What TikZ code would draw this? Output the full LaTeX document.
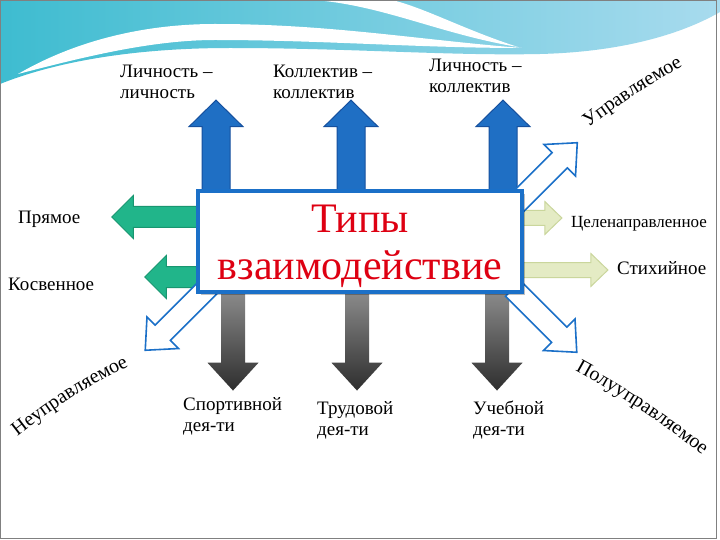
\documentclass[tikz,border=0pt]{standalone}
\usepackage{fontspec}
\setmainfont{Liberation Serif}
\usetikzlibrary{shapes.arrows,decorations.text,shadows}

\definecolor{bandteal}{RGB}{62,188,208}
\definecolor{banddeep}{RGB}{84,166,206}
\definecolor{bandpale}{RGB}{168,219,238}
\definecolor{boxblue}{RGB}{27,112,200}
\definecolor{arrblue}{RGB}{31,111,196}
\definecolor{arrblueline}{RGB}{22,80,158}
\definecolor{arrgreen}{RGB}{33,181,138}
\definecolor{arrgreenline}{RGB}{24,150,112}
\definecolor{arrpale}{RGB}{228,235,196}
\definecolor{arrpaleline}{RGB}{202,214,156}
\definecolor{titlered}{RGB}{222,0,18}

\begin{document}
\begin{tikzpicture}[x=1pt,y=-1pt,
    lbl/.style={anchor=base west, align=left, inner sep=0pt, font=\fontsize{19}{21}\selectfont},
    arr/.style={single arrow, line width=1pt},
    bluearr/.style={arr, shape border rotate=90, fill=arrblue, draw=arrblueline,
        inner sep=13.5pt, single arrow head extend=13pt, single arrow tip angle=91},
    grayarr/.style={arr, shape border rotate=270, draw=none, top color=black!45, bottom color=black!82,
        inner sep=11.5pt, single arrow head extend=13.5pt, single arrow tip angle=85},
    greenarr/.style={arr, shape border rotate=180, fill=arrgreen, draw=arrgreenline,
        inner sep=10pt, single arrow head extend=11pt, single arrow tip angle=90},
    palearr/.style={arr, fill=arrpale, draw=arrpaleline,
        inner sep=7pt, single arrow head extend=9pt, single arrow tip angle=88},
    hollowarr/.style={arr, fill=white, draw=boxblue, line width=1.6pt, minimum height=90pt,
        inner sep=10pt, single arrow head extend=11.5pt, single arrow tip angle=84},
    curvetext/.style={decorate, decoration={text along path, text align=center,
        text={|\fontsize{20}{24}\selectfont|#1}}}
]

\useasboundingbox (0,0) rectangle (720,540);

%%%%%%%%%%%%%%%%%%%% Background %%%%%%%%%%%%%%%%%%%%

\fill[white] (0,0) rectangle (720,540);
\shade[left color=bandteal, middle color=banddeep, right color=bandpale]
    (0,0) -- (720,0) -- (720,12) .. controls (680,35) and (620,52) .. (540,54)
    .. controls (450,56) and (350,48) .. (230,48) .. controls (140,48) and (60,60) .. (0,84) -- cycle;
\fill[white] (315,0) .. controls (385,6) and (440,34) .. (518,47)
    .. controls (465,30) and (425,8) .. (392,0) -- cycle;
\fill[white] (18,74) .. controls (80,38) and (150,24) .. (215,24) .. controls (330,24) and (420,40) .. (522,48)
    .. controls (420,48) and (320,40) .. (215,40) .. controls (150,40) and (80,58) .. (18,74) -- cycle;
\draw[black!50, line width=1pt] (0.5,0.5) rectangle (716,538.5);

%%%%%%%%%%%%%%%%%%%% Arrows %%%%%%%%%%%%%%%%%%%%

%upward arrows
\foreach \index/\xpos in {1/216, 2/351, 3/503}
{
    \node[bluearr, minimum height=95pt] (up\index) at (\xpos,154.5) {};
}

%downward arrows
\foreach \index/\xpos in {1/233, 2/357, 3/497}
{
    \node[grayarr, minimum height=100pt] (down\index) at (\xpos,334) {};
}

%left arrows
\node[greenarr, minimum height=88pt] (left1) at (161,217) {};
\node[greenarr, minimum height=55pt] (left2) at (177.5,277) {};

%right arrows
\node[palearr, minimum height=42pt] (right1) at (537,218) {};
\node[palearr, minimum height=88pt] (right2) at (560,270) {};

%diagonal arrows
\node[hollowarr, rotate=45] (diag1) at (541.2,178.8) {};
\node[hollowarr, rotate=225] (diag2) at (181.3,314.2) {};
\node[hollowarr, rotate=-45] (diag3) at (540.7,316.2) {};

%%%%%%%%%%%%%%%%%%%% Central box %%%%%%%%%%%%%%%%%%%%

\node[rectangle, draw=boxblue, line width=4pt, fill=white, minimum width=324pt, minimum height=101pt,
    drop shadow={shadow xshift=3pt, shadow yshift=-3pt, opacity=0.25, fill=black}] (box) at (360,241.5) {};
\node[align=center, text=titlered, inner sep=0pt, font=\fontsize{42}{47}\selectfont] (title) at (360,246.6) {Типы\\взаимодействие};

%%%%%%%%%%%%%%%%%%%% Labels %%%%%%%%%%%%%%%%%%%%

%top labels (base = last line)
\foreach \index/\xpos/\ypos/\txt in {1/120/99/{Личность –\\личность}, 2/273/99/{Коллектив –\\коллектив}, 3/429/93/{Личность –\\коллектив}}
{
    \node[lbl] (top\index) at (\xpos,\ypos) {\txt};
}

%bottom labels
\foreach \index/\xpos/\ypos/\txt in {1/183/431/{Спортивной\\дея-ти}, 2/317/435/{Трудовой\\дея-ти}, 3/473/435/{Учебной\\дея-ти}}
{
    \node[lbl] (bot\index) at (\xpos,\ypos) {\txt};
}

%side labels
\node[lbl] (pryam) at (18,223) {Прямое};
\node[lbl] (kosv) at (8,290) {Косвенное};
\node[lbl, font=\fontsize{17}{21}\selectfont] (tsel) at (571,228) {Целенаправленное};
\node[lbl] (stikh) at (617,274) {Стихийное};

%curved labels
\coordinate (upr0) at (580,134);
\coordinate (upr1) at (692,61);
\coordinate (neupr0) at (10,442);
\coordinate (neupr1) at (137,362);
\coordinate (poluupr0) at (570,368);
\coordinate (poluupr1) at (707,459);

\path[curvetext={Управляемое}] (upr0) to[bend left=4] (upr1);
\path[curvetext={Неуправляемое}] (neupr0) to[bend left=6] (neupr1);
\path[curvetext={Полууправляемое}] (poluupr0) to[bend left=5] (poluupr1);

\end{tikzpicture}
\end{document}
